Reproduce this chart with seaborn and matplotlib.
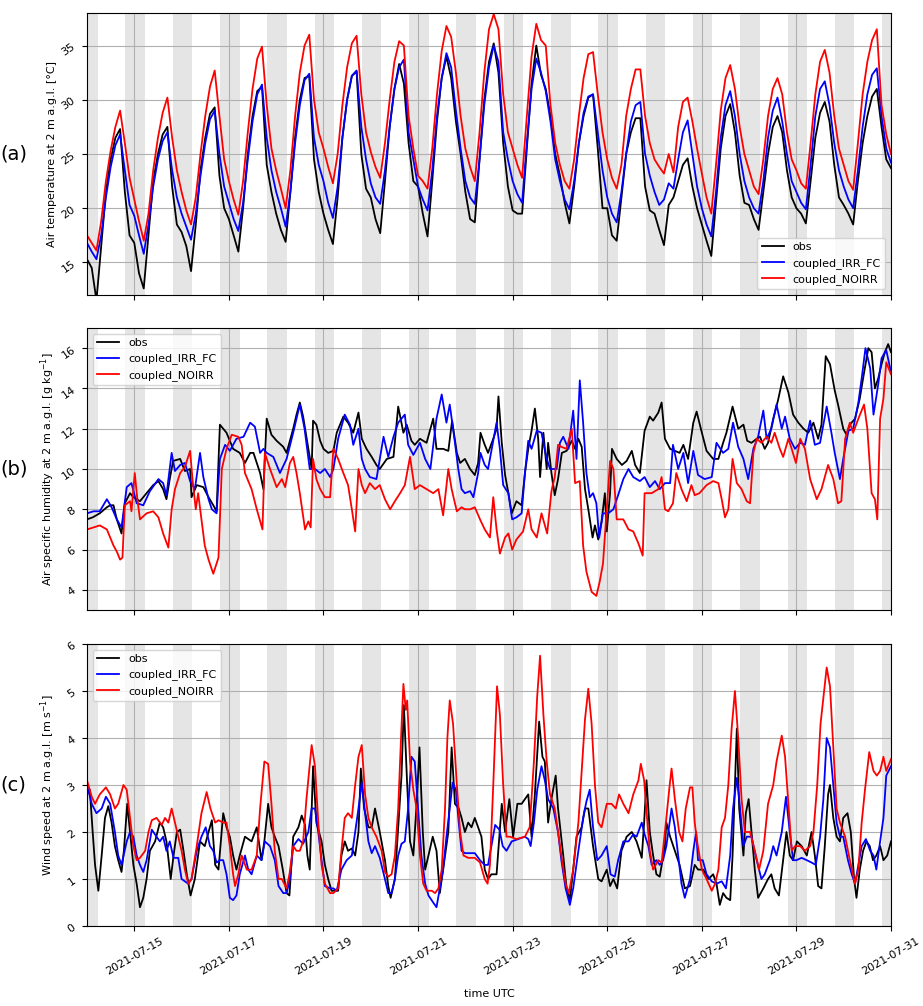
import numpy as np
import pandas as pd
import matplotlib
matplotlib.use("Agg")
import matplotlib.pyplot as plt
import matplotlib.dates as mdates
import seaborn as sns

FS = 8
plt.rcParams["font.size"] = FS

START = pd.Timestamp("2021-07-14")
END = pd.Timestamp("2021-07-31")
SOURCES = ["obs", "coupled_IRR_FC", "coupled_NOIRR"]
COLORS = {"obs": "black", "coupled_IRR_FC": "blue", "coupled_NOIRR": "red"}

# ---------------- panel (a): 2 m temperature, sampled every 0.1 day ----------------
t2m_days = np.round(np.arange(0, 17.0001, 0.1), 1)
t2m_obs = [15.3, 14.5,
    11.5, 16.5, 21.5, 24.5, 26.5, 27.3, 21.5, 17.5, 16.8, 14.0,
    12.6, 17.5, 22.5, 25.0, 26.8, 27.5, 22.0, 18.5, 17.8, 16.5,
    14.2, 18.5, 23.5, 26.5, 28.7, 29.3, 23.0, 20.0, 19.0, 17.5,
    16.0, 20.0, 25.0, 28.5, 30.8, 31.2, 24.0, 21.5, 19.5, 18.0,
    16.9, 21.5, 26.5, 30.0, 32.0, 32.2, 24.5, 21.5, 19.5, 18.0,
    16.7, 21.0, 26.5, 30.0, 32.2, 32.6, 25.0, 21.8, 21.0, 19.0,
    17.7, 22.5, 27.5, 31.0, 33.3, 31.5, 26.0, 22.5, 22.0, 19.5,
    17.4, 22.5, 28.0, 32.0, 34.0, 32.0, 28.0, 25.0, 21.5, 19.0,
    18.7, 24.5, 30.0, 33.5, 35.2, 32.5, 26.0, 22.0, 19.8, 19.5,
    19.5, 25.5, 31.5, 35.0, 32.3, 31.0, 28.5, 25.0, 23.0, 20.5,
    18.6, 22.0, 26.0, 28.5, 30.2, 30.5, 25.5, 20.0, 20.0, 17.5,
    17.0, 21.0, 25.0, 27.0, 28.3, 28.3, 22.0, 19.8, 19.5, 18.0,
    16.6, 20.3, 21.0, 22.5, 24.0, 24.6, 22.0, 20.0, 18.5, 17.0,
    15.6, 20.5, 25.5, 28.5, 29.6, 27.0, 23.0, 20.5, 20.3, 19.0,
    18.0, 21.5, 25.0, 27.5, 28.5, 27.0, 23.5, 21.0, 20.0, 19.5,
    18.6, 22.5, 26.5, 28.8, 29.8, 28.0, 24.0, 21.0, 20.3, 19.5,
    18.5, 22.5, 26.0, 28.5, 30.3, 31.0, 27.5, 24.5, 23.7]
t2m_irr = [16.8, 16.0,
    15.3, 17.5, 21.0, 23.8, 25.8, 26.8, 23.5, 20.3, 19.3, 17.5,
    15.8, 18.5, 22.0, 24.5, 26.2, 27.0, 23.5, 21.0, 19.5, 18.3,
    17.1, 19.5, 23.0, 26.0, 28.2, 29.0, 25.0, 22.0, 20.5, 19.0,
    17.9, 20.5, 24.5, 28.0, 30.5, 31.4, 26.5, 23.5, 21.5, 20.0,
    18.3, 21.5, 26.0, 29.5, 31.8, 32.4, 26.5, 24.0, 22.5, 20.5,
    19.1, 22.0, 26.5, 30.0, 32.2, 32.7, 27.5, 24.5, 22.3, 21.0,
    20.4, 23.5, 27.5, 31.0, 33.0, 33.7, 27.0, 24.5, 22.0, 20.8,
    19.8, 23.5, 28.5, 32.0, 34.3, 33.0, 29.0, 25.5, 22.5, 21.0,
    20.4, 24.5, 29.5, 33.0, 35.0, 33.5, 27.0, 24.5, 22.5, 21.3,
    20.5, 26.0, 31.0, 33.8, 32.5, 30.8, 28.0, 24.5, 22.5, 20.8,
    19.9, 22.5, 26.0, 28.8, 30.3, 30.5, 27.0, 23.5, 21.0, 19.5,
    18.7, 21.5, 25.0, 28.0, 29.5, 29.8, 25.0, 23.0, 21.5, 20.3,
    20.8, 22.3, 21.8, 24.5, 27.0, 28.1, 25.0, 22.0, 20.0, 18.5,
    17.4, 21.5, 26.5, 29.5, 30.8, 28.5, 25.0, 22.5, 21.0, 20.0,
    19.5, 22.5, 26.5, 29.0, 30.2, 28.0, 25.0, 22.5, 21.5, 20.5,
    19.9, 24.0, 28.5, 31.0, 31.7, 29.5, 26.0, 23.5, 22.0, 20.8,
    20.0, 23.5, 27.5, 30.5, 32.3, 32.9, 28.5, 25.5, 24.2]
t2m_noirr = [17.5, 16.8,
    16.1, 18.8, 22.5, 25.3, 27.5, 29.0, 26.0, 22.8, 20.8, 18.8,
    17.0, 19.5, 23.5, 26.5, 28.8, 30.2, 26.5, 23.5, 21.5, 19.8,
    18.5, 21.0, 25.0, 28.5, 31.2, 32.7, 28.5, 24.5, 22.5, 20.8,
    19.4, 22.5, 27.0, 31.0, 33.8, 34.9, 29.5, 25.5, 23.5, 21.8,
    20.0, 23.5, 28.5, 32.5, 35.0, 36.0, 30.0, 27.0, 25.5, 23.8,
    22.3, 25.0, 29.5, 33.0, 35.2, 35.9, 30.5, 27.0, 25.2, 23.8,
    22.8, 26.0, 30.0, 33.5, 35.4, 35.0, 28.5, 25.5, 23.0, 22.5,
    21.8, 25.5, 30.5, 34.5, 36.8, 35.8, 32.5, 28.5, 25.5, 23.8,
    22.5, 27.0, 32.5, 36.5, 37.9, 36.5, 30.5, 27.0, 25.5, 24.0,
    22.8, 28.5, 34.0, 37.0, 35.5, 35.0, 29.5, 26.0, 24.0, 22.5,
    21.8, 24.5, 28.5, 32.0, 34.2, 34.4, 30.5, 27.0, 24.5, 22.8,
    21.8, 24.0, 28.5, 31.0, 32.8, 32.8, 28.5, 26.0, 24.5, 23.8,
    23.2, 25.0, 23.3, 27.5, 29.8, 30.2, 28.0, 25.5, 23.2, 21.0,
    19.5, 24.0, 29.0, 32.0, 33.2, 31.0, 27.5, 25.0, 23.5, 22.0,
    21.3, 24.5, 28.5, 31.0, 32.0, 30.5, 27.0, 24.5, 23.5, 22.3,
    21.8, 26.0, 30.5, 33.5, 34.6, 32.5, 28.5, 25.5, 24.0, 22.5,
    21.7, 26.0, 30.5, 33.5, 35.5, 36.5, 29.5, 26.8, 25.0]

# ---------------- panel (b): specific humidity (day offset, g/kg) ----------------
q_obs = [(0,7.5),(0.12,7.6),(0.27,7.8),(0.42,8.1),(0.49,8.2),(0.56,8.2),(0.63,7.5),(0.73,6.8),(0.8,8.3),(0.91,8.8),
    (0.98,8.6),(1.12,8.4),(1.26,8.8),(1.4,9.2),(1.51,9.4),(1.61,9.0),(1.68,8.5),(1.75,9.5),(1.82,10.4),(1.97,10.5),
    (2.07,9.9),(2.18,10.0),(2.21,8.6),(2.32,9.2),(2.46,9.1),(2.57,8.6),(2.67,8.2),(2.74,7.9),(2.81,12.2),(2.95,11.8),
    (3.09,11.0),(3.23,10.8),(3.34,10.3),(3.45,10.8),(3.52,10.8),(3.59,10.3),(3.66,9.8),(3.73,9.0),(3.8,12.5),(3.9,11.7),
    (4.01,11.4),(4.15,11.1),(4.22,10.8),(4.29,11.4),(4.36,12.0),(4.43,12.7),(4.5,13.3),(4.57,12.6),(4.68,11.0),(4.75,10.0),
    (4.78,12.4),(4.85,12.2),(4.93,11.4),(5.0,11.0),(5.1,10.8),(5.21,10.9),(5.28,11.8),(5.42,12.6),(5.52,12.3),(5.63,11.8),
    (5.74,12.8),(5.81,11.5),(5.91,11.0),(6.02,10.6),(6.12,10.2),(6.19,10.0),(6.34,10.5),(6.48,10.6),(6.58,13.1),(6.69,11.8),
    (6.76,12.2),(6.86,11.4),(6.93,11.2),(7.04,11.5),(7.18,11.3),(7.32,12.5),(7.39,11.0),(7.53,11.0),(7.64,10.9),(7.72,12.4),
    (7.82,10.8),(7.89,10.3),(7.99,10.5),(8.1,10.0),(8.2,9.7),(8.27,10.3),(8.32,11.8),(8.41,11.2),(8.48,10.8),(8.59,11.5),
    (8.66,12.0),(8.7,13.6),(8.77,11.3),(8.84,9.7),(8.91,8.8),(8.98,7.8),(9.08,8.4),(9.19,8.2),(9.26,9.8),(9.33,11.0),
    (9.4,11.9),(9.47,13.0),(9.54,11.5),(9.58,9.6),(9.65,11.8),(9.72,10.0),(9.75,11.3),(9.82,9.8),(9.89,8.7),(9.96,9.5),
    (10.04,10.8),(10.14,10.9),(10.25,11.4),(10.32,11.0),(10.39,11.5),(10.46,11.1),(10.53,9.0),(10.6,8.0),(10.69,6.6),(10.74,7.2),
    (10.81,6.5),(10.88,7.4),(10.95,8.8),(10.99,6.9),(11.06,8.8),(11.1,11.0),(11.2,10.5),(11.31,10.2),(11.41,10.4),(11.52,10.9),
    (11.59,10.2),(11.69,9.8),(11.79,11.9),(11.9,12.6),(11.97,12.4),(12.08,12.8),(12.15,13.3),(12.22,11.5),(12.33,11.0),(12.43,10.9),
    (12.53,10.8),(12.61,11.2),(12.71,10.5),(12.82,12.3),(12.89,12.85),(12.99,11.9),(13.1,10.9),(13.24,10.5),(13.35,10.5),(13.45,11.3),
    (13.52,11.8),(13.65,13.1),(13.77,12.0),(13.88,12.2),(13.96,11.4),(14.05,11.3),(14.16,11.5),(14.23,11.6),(14.33,11.0),(14.4,11.3),
    (14.51,12.5),(14.61,13.4),(14.72,14.6),(14.83,13.8),(14.93,12.7),(15.04,12.3),(15.15,12.0),(15.25,11.8),(15.36,12.3),(15.46,11.5),
    (15.53,12.2),(15.62,15.6),(15.71,15.2),(15.81,13.9),(15.88,13.2),(15.99,12.0),(16.06,11.7),(16.13,12.2),(16.24,12.5),(16.34,13.5),
    (16.41,14.5),(16.52,16.0),(16.59,15.8),(16.66,14.0),(16.73,14.5),(16.8,15.2),(16.87,15.8),(16.94,16.2),(17.0,15.8)]
q_irr = [(0,7.8),(0.14,7.9),(0.27,7.9),(0.42,8.5),(0.52,8.1),(0.63,7.5),(0.73,7.1),(0.84,9.1),(0.94,9.3),(1.05,8.3),
    (1.19,8.2),(1.33,8.9),(1.51,9.5),(1.61,9.3),(1.68,8.7),(1.79,10.8),(1.86,9.9),(1.97,10.2),(2.07,10.3),(2.18,9.4),
    (2.28,9.0),(2.39,10.8),(2.46,9.6),(2.57,8.5),(2.64,8.0),(2.74,7.8),(2.81,10.5),(2.92,11.2),(3.02,10.9),(3.16,11.5),
    (3.31,11.6),(3.45,12.3),(3.55,12.1),(3.66,10.8),(3.73,11.0),(3.8,10.8),(3.94,10.6),(4.08,9.8),(4.22,10.5),(4.36,11.8),
    (4.5,13.2),(4.6,12.0),(4.71,10.0),(4.82,10.0),(4.93,9.8),(5.03,10.0),(5.14,9.6),(5.21,10.0),(5.31,11.5),(5.45,12.7),
    (5.56,12.2),(5.63,11.2),(5.74,12.0),(5.81,10.5),(5.88,10.0),(5.98,9.6),(6.12,9.5),(6.27,11.6),(6.37,10.6),(6.48,11.6),
    (6.58,12.3),(6.72,12.7),(6.79,11.2),(6.9,10.7),(7.04,11.3),(7.15,10.5),(7.26,10.0),(7.39,12.5),(7.5,13.7),(7.6,12.3),
    (7.67,13.2),(7.78,11.3),(7.85,10.0),(7.92,9.0),(7.99,8.8),(8.1,8.9),(8.17,8.6),(8.27,9.8),(8.32,10.8),(8.41,10.2),
    (8.48,10.0),(8.55,10.9),(8.66,12.3),(8.73,11.0),(8.8,9.2),(8.91,8.8),(8.99,7.5),(9.08,7.6),(9.19,7.8),(9.26,9.8),
    (9.33,11.4),(9.4,11.0),(9.51,11.9),(9.61,11.8),(9.71,10.6),(9.79,10.0),(9.86,10.0),(9.93,10.0),(10.0,11.3),(10.07,11.6),
    (10.18,11.0),(10.28,12.9),(10.35,10.5),(10.42,14.4),(10.49,12.3),(10.56,9.8),(10.63,8.6),(10.7,8.8),(10.77,8.3),(10.83,6.6),
    (10.91,7.8),(11.02,7.8),(11.13,8.0),(11.23,8.7),(11.34,9.5),(11.45,10.0),(11.55,9.6),(11.69,9.4),(11.79,9.6),(11.9,9.1),
    (12.01,9.4),(12.11,9.0),(12.22,9.3),(12.33,9.3),(12.39,11.2),(12.5,10.0),(12.61,10.8),(12.71,9.3),(12.82,10.9),(12.92,9.7),
    (13.06,9.5),(13.21,9.6),(13.31,11.3),(13.45,10.8),(13.56,11.0),(13.66,12.3),(13.77,11.1),(13.88,10.5),(13.98,9.5),(14.09,11.0),
    (14.19,11.6),(14.3,12.9),(14.37,11.5),(14.47,12.0),(14.58,13.2),(14.69,12.0),(14.76,12.6),(14.86,11.5),(14.97,11.0),(15.08,11.3),
    (15.18,11.2),(15.29,12.4),(15.39,11.2),(15.5,11.3),(15.64,13.1),(15.74,11.8),(15.81,10.8),(15.92,9.5),(15.99,10.5),(16.1,11.9),
    (16.2,12.0),(16.31,13.3),(16.38,14.5),(16.46,16.0),(16.56,15.0),(16.63,12.7),(16.73,14.2),(16.8,15.5),(16.9,15.9),(17.0,14.8)]
q_noirr = [(0,7.0),(0.14,7.1),(0.27,7.2),(0.42,7.0),(0.49,6.6),(0.56,6.2),(0.63,5.9),(0.7,5.5),(0.75,5.6),(0.8,8.2),
    (0.91,8.4),(0.94,7.9),(1.01,9.8),(1.06,8.6),(1.12,7.5),(1.26,7.8),(1.4,7.9),(1.51,7.6),(1.61,6.8),(1.72,6.1),
    (1.79,8.0),(1.86,9.0),(1.97,9.8),(2.07,10.1),(2.18,10.9),(2.23,9.5),(2.3,8.0),(2.35,8.8),(2.42,7.5),(2.49,6.2),
    (2.57,5.5),(2.67,4.8),(2.78,5.6),(2.85,10.0),(2.95,11.0),(3.06,11.7),(3.2,11.6),(3.27,11.2),(3.34,9.8),(3.48,9.0),
    (3.59,8.0),(3.71,7.0),(3.76,10.8),(3.87,10.0),(4.01,9.1),(4.12,9.5),(4.19,9.1),(4.29,10.3),(4.36,10.6),(4.43,9.8),
    (4.5,8.8),(4.61,7.0),(4.68,7.4),(4.73,7.1),(4.78,10.5),(4.85,9.5),(4.93,9.0),(5.03,8.6),(5.14,8.6),(5.21,11.0),
    (5.31,10.5),(5.42,9.8),(5.52,9.2),(5.6,8.0),(5.67,6.9),(5.74,10.0),(5.81,9.2),(5.88,8.8),(5.98,9.3),(6.09,9.0),
    (6.19,9.2),(6.3,8.5),(6.41,8.0),(6.51,8.4),(6.62,8.8),(6.72,9.2),(6.83,10.6),(6.93,9.0),(7.04,9.2),(7.18,9.0),
    (7.32,8.8),(7.43,9.0),(7.53,7.7),(7.64,10.0),(7.71,9.0),(7.82,7.9),(7.92,8.1),(7.99,8.0),(8.1,8.0),(8.2,8.1),
    (8.31,7.5),(8.41,7.0),(8.52,6.6),(8.59,8.6),(8.66,7.0),(8.73,5.8),(8.84,6.6),(8.91,6.8),(8.99,6.0),(9.08,6.5),
    (9.22,6.9),(9.33,8.0),(9.4,7.0),(9.51,6.6),(9.61,7.8),(9.73,6.8),(9.82,8.9),(9.89,9.6),(9.96,11.2),(10.03,11.1),
    (10.14,11.0),(10.25,12.0),(10.32,9.3),(10.42,9.4),(10.49,6.2),(10.56,4.9),(10.67,3.9),(10.77,3.7),(10.84,4.4),(10.91,5.3),
    (10.99,8.0),(11.06,10.4),(11.13,10.0),(11.2,7.5),(11.34,7.5),(11.45,7.0),(11.55,6.9),(11.66,6.3),(11.75,5.7),(11.79,8.8),
    (11.94,8.8),(12.08,9.0),(12.15,9.6),(12.22,8.0),(12.29,7.9),(12.39,8.3),(12.46,9.8),(12.57,9.0),(12.68,8.4),(12.78,9.2),
    (12.85,8.7),(12.95,8.8),(13.1,9.2),(13.24,9.4),(13.35,9.3),(13.42,8.5),(13.49,7.6),(13.56,8.0),(13.65,10.5),(13.74,9.3),
    (13.84,9.0),(13.95,8.4),(14.02,8.3),(14.09,10.8),(14.16,11.5),(14.26,11.3),(14.37,11.6),(14.47,11.3),(14.54,11.8),(14.65,11.0),
    (14.72,10.6),(14.83,11.5),(14.9,11.0),(14.99,10.3),(15.08,11.5),(15.18,11.0),(15.29,9.5),(15.43,8.5),(15.53,9.0),(15.67,10.2),
    (15.78,9.5),(15.88,8.3),(15.95,8.4),(16.03,11.5),(16.13,12.3),(16.2,11.8),(16.31,12.5),(16.43,13.2),(16.5,12.0),(16.59,8.8),
    (16.66,8.5),(16.71,7.5),(16.77,12.5),(16.84,13.5),(16.9,15.3),(17.0,14.7)]

# ---------------- panel (c): wind speed (day offset, m/s) ----------------
ws_obs = [(0,2.8),(0.06,2.9),(0.12,2.0),(0.17,1.3),(0.24,0.75),(0.31,1.5),(0.38,2.3),(0.45,2.55),(0.52,2.2),(0.59,1.7),
    (0.66,1.4),(0.73,1.15),(0.78,1.6),(0.85,2.6),(0.91,2.0),(0.98,1.3),(1.05,0.9),(1.12,0.4),(1.19,0.6),(1.26,1.0),
    (1.33,1.6),(1.44,1.8),(1.54,2.2),(1.61,2.1),(1.68,1.8),(1.77,1.0),(1.83,1.5),(1.9,2.0),(1.97,2.05),(2.04,1.6),
    (2.11,1.1),(2.19,0.65),(2.28,1.0),(2.39,1.8),(2.49,1.7),(2.57,2.0),(2.64,2.25),(2.71,1.3),(2.78,1.2),(2.88,2.4),
    (2.95,2.1),(3.02,1.9),(3.09,1.5),(3.16,1.2),(3.23,1.5),(3.34,1.9),(3.48,1.8),(3.59,2.1),(3.69,1.4),(3.75,1.8),
    (3.83,2.6),(3.9,2.1),(3.97,1.9),(4.05,1.7),(4.14,1.2),(4.22,0.7),(4.28,0.65),(4.36,1.9),(4.47,2.1),(4.54,2.35),
    (4.61,2.15),(4.66,1.5),(4.71,1.2),(4.78,3.4),(4.85,2.2),(4.96,1.8),(5.03,1.3),(5.1,1.0),(5.17,0.75),(5.24,0.75),
    (5.31,0.75),(5.38,1.5),(5.45,1.8),(5.52,1.6),(5.6,1.65),(5.67,1.5),(5.74,2.0),(5.79,3.35),(5.86,2.5),(5.95,2.1),
    (6.02,2.1),(6.09,2.5),(6.19,2.0),(6.3,1.4),(6.37,0.85),(6.42,0.6),(6.51,1.0),(6.58,2.1),(6.65,3.2),(6.7,4.7),
    (6.77,3.0),(6.83,1.8),(6.9,1.5),(6.97,2.6),(7.03,3.8),(7.1,2.0),(7.15,1.2),(7.22,1.5),(7.31,1.9),(7.39,1.6),
    (7.46,0.7),(7.53,1.2),(7.64,2.0),(7.71,3.8),(7.78,2.6),(7.86,2.5),(7.92,2.3),(7.99,2.0),(8.06,2.2),(8.13,2.1),
    (8.2,2.3),(8.27,2.1),(8.34,1.9),(8.41,1.2),(8.48,1.0),(8.55,1.1),(8.66,1.1),(8.77,2.6),(8.84,2.0),(8.93,2.7),
    (9.01,1.9),(9.1,2.6),(9.19,2.6),(9.26,2.7),(9.33,2.8),(9.4,1.9),(9.47,2.8),(9.56,4.35),(9.63,3.6),(9.68,3.5),
    (9.75,2.2),(9.82,2.7),(9.91,3.2),(9.96,2.5),(10.07,1.5),(10.14,0.8),(10.21,0.55),(10.28,1.2),(10.35,1.9),(10.46,2.1),
    (10.53,2.5),(10.6,2.5),(10.7,1.7),(10.81,1.0),(10.88,0.95),(10.99,1.2),(11.06,0.85),(11.13,1.0),(11.21,0.8),(11.3,1.6),
    (11.41,1.9),(11.52,2.0),(11.62,1.8),(11.73,1.45),(11.78,2.2),(11.83,3.1),(11.9,2.0),(11.97,1.5),(12.04,1.1),(12.11,1.05),
    (12.22,1.7),(12.25,2.2),(12.33,1.9),(12.43,1.6),(12.53,1.3),(12.64,0.8),(12.75,0.85),(12.85,1.3),(12.92,1.2),(13.03,1.2),
    (13.14,1.0),(13.24,1.1),(13.31,0.9),(13.38,0.45),(13.45,0.7),(13.52,0.6),(13.6,0.55),(13.65,1.5),(13.7,3.0),(13.74,4.2),
    (13.79,2.5),(13.88,1.5),(13.93,2.4),(13.99,2.7),(14.05,2.0),(14.12,1.2),(14.19,0.6),(14.3,0.8),(14.4,1.0),(14.47,1.1),
    (14.54,0.8),(14.63,0.65),(14.72,1.4),(14.79,2.0),(14.86,1.5),(14.93,1.4),(15.01,1.8),(15.11,1.7),(15.22,1.5),(15.32,2.0),
    (15.39,1.5),(15.46,0.85),(15.53,0.8),(15.6,1.7),(15.67,2.8),(15.71,3.0),(15.78,2.3),(15.85,1.9),(15.92,1.8),(15.99,2.3),
    (16.08,2.4),(16.15,2.0),(16.22,1.0),(16.27,0.6),(16.34,1.2),(16.41,1.6),(16.48,1.8),(16.55,1.7),(16.62,1.4),(16.69,1.5),
    (16.77,1.7),(16.84,1.4),(16.92,1.5),(17.0,1.8)]
ws_irr = [(0,3.0),(0.1,2.6),(0.2,2.4),(0.31,2.5),(0.4,2.75),(0.49,2.6),(0.59,2.0),(0.66,1.5),(0.73,1.3),(0.84,1.8),
    (0.91,2.0),(0.98,1.9),(1.05,1.5),(1.12,1.3),(1.19,1.15),(1.26,1.4),(1.37,2.05),(1.47,1.9),(1.54,1.8),(1.61,1.9),
    (1.68,1.6),(1.75,1.8),(1.83,1.45),(1.93,1.45),(2.0,1.0),(2.07,0.95),(2.14,0.9),(2.21,1.0),(2.32,1.6),(2.42,1.9),
    (2.51,2.1),(2.6,1.7),(2.67,1.6),(2.74,1.35),(2.81,1.4),(2.88,1.4),(2.95,1.1),(3.02,0.6),(3.09,0.55),(3.16,0.65),
    (3.23,1.1),(3.34,1.5),(3.41,1.2),(3.48,1.1),(3.59,1.5),(3.69,1.4),(3.76,1.8),(3.87,1.7),(3.97,1.4),(4.05,0.85),
    (4.15,0.7),(4.22,0.7),(4.29,1.0),(4.36,1.7),(4.47,1.85),(4.57,1.75),(4.68,2.0),(4.75,2.5),(4.82,2.5),(4.89,2.0),
    (4.96,1.4),(5.03,0.85),(5.14,0.8),(5.21,0.8),(5.28,0.75),(5.38,1.2),(5.49,1.4),(5.6,1.5),(5.67,2.0),(5.74,2.5),
    (5.81,3.05),(5.88,2.4),(5.95,1.8),(6.02,1.55),(6.09,1.7),(6.19,1.45),(6.3,1.0),(6.37,0.7),(6.44,0.7),(6.51,1.0),
    (6.58,1.5),(6.65,1.75),(6.72,1.8),(6.79,2.5),(6.86,3.6),(6.93,3.5),(7.0,2.5),(7.07,1.5),(7.15,0.9),(7.22,0.65),
    (7.32,0.5),(7.39,0.4),(7.46,0.8),(7.53,1.2),(7.6,1.9),(7.67,2.5),(7.73,3.05),(7.8,2.9),(7.86,2.2),(7.92,1.6),
    (7.99,1.55),(8.06,1.55),(8.2,1.55),(8.31,1.4),(8.41,1.3),(8.48,1.3),(8.55,1.7),(8.63,2.15),(8.72,2.05),(8.79,1.7),
    (8.87,1.6),(8.98,1.8),(9.12,1.85),(9.26,1.9),(9.33,1.85),(9.38,1.7),(9.45,2.2),(9.52,2.9),(9.61,3.4),(9.68,3.1),
    (9.75,2.7),(9.86,2.5),(9.96,2.0),(10.03,1.4),(10.12,0.8),(10.21,0.45),(10.28,0.8),(10.39,1.6),(10.49,2.3),(10.56,2.65),
    (10.63,2.9),(10.7,2.1),(10.79,1.4),(10.88,1.5),(10.99,1.7),(11.07,1.1),(11.16,1.05),(11.23,1.4),(11.34,1.8),(11.45,1.8),
    (11.55,1.95),(11.62,1.9),(11.73,2.2),(11.79,1.95),(11.87,1.7),(11.94,1.3),(12.04,1.4),(12.11,1.3),(12.18,1.4),(12.25,1.7),
    (12.36,2.5),(12.43,2.1),(12.5,1.5),(12.57,0.9),(12.64,0.6),(12.75,1.0),(12.82,1.6),(12.88,2.0),(12.92,1.4),(13.02,1.4),
    (13.1,1.1),(13.21,0.95),(13.31,0.9),(13.42,0.95),(13.51,0.8),(13.6,1.5),(13.66,2.5),(13.74,3.15),(13.8,2.6),(13.88,1.7),
    (13.95,1.9),(14.05,1.9),(14.16,1.4),(14.26,1.0),(14.33,1.1),(14.44,1.4),(14.51,1.7),(14.58,1.5),(14.69,2.0),(14.78,2.75),
    (14.86,2.0),(14.93,1.4),(15.0,1.4),(15.11,1.45),(15.22,1.4),(15.32,1.35),(15.41,1.3),(15.5,1.9),(15.57,2.7),(15.64,4.0),
    (15.71,3.8),(15.78,3.0),(15.85,2.2),(15.92,1.9),(15.99,1.9),(16.09,1.4),(16.17,1.1),(16.24,0.9),(16.31,1.3),(16.38,1.7),
    (16.47,1.85),(16.56,1.6),(16.63,1.5),(16.69,1.2),(16.77,1.8),(16.84,2.3),(16.9,3.2),(17.0,3.4)]
ws_noirr = [(0,3.1),(0.1,2.75),(0.17,2.6),(0.27,2.8),(0.4,2.95),(0.49,2.8),(0.59,2.5),(0.66,2.6),(0.77,3.0),(0.84,2.9),
    (0.91,2.3),(0.98,1.7),(1.05,1.4),(1.12,1.45),(1.23,1.6),(1.3,2.0),(1.37,2.25),(1.47,2.3),(1.58,2.15),(1.65,2.3),
    (1.72,2.2),(1.79,2.5),(1.86,2.2),(1.93,1.9),(2.0,1.6),(2.07,1.2),(2.14,0.9),(2.21,1.0),(2.32,1.7),(2.42,2.4),
    (2.53,2.85),(2.61,2.5),(2.71,2.2),(2.78,2.25),(2.88,2.2),(2.95,2.2),(3.02,1.7),(3.09,1.1),(3.13,0.85),(3.2,1.1),
    (3.27,1.5),(3.38,1.2),(3.48,1.2),(3.59,1.5),(3.66,2.5),(3.75,3.5),(3.83,3.45),(3.9,2.6),(3.97,1.6),(4.05,1.0),
    (4.12,1.0),(4.22,0.8),(4.28,1.1),(4.36,1.7),(4.43,1.6),(4.5,1.6),(4.57,1.8),(4.64,2.7),(4.75,3.85),(4.82,3.4),
    (4.89,2.2),(4.96,1.3),(5.03,0.9),(5.14,0.7),(5.21,0.7),(5.31,0.8),(5.38,1.6),(5.45,2.3),(5.52,2.4),(5.6,2.3),
    (5.67,3.0),(5.74,3.6),(5.81,3.85),(5.88,2.8),(5.95,2.3),(6.02,2.1),(6.12,1.9),(6.23,1.6),(6.3,1.15),(6.37,1.05),
    (6.44,1.1),(6.51,1.5),(6.58,2.5),(6.64,4.0),(6.69,5.15),(6.74,4.6),(6.77,4.8),(6.83,3.5),(6.9,2.9),(6.97,2.5),
    (7.04,1.5),(7.11,0.9),(7.18,0.75),(7.29,0.75),(7.36,0.7),(7.43,0.8),(7.5,1.2),(7.57,2.5),(7.62,4.0),(7.67,4.8),
    (7.74,4.3),(7.82,3.0),(7.89,2.0),(7.96,1.5),(8.06,1.45),(8.2,1.45),(8.31,1.35),(8.41,1.0),(8.47,0.9),(8.52,1.3),
    (8.59,3.0),(8.67,5.1),(8.73,4.5),(8.8,3.0),(8.87,1.9),(8.94,1.9),(9.08,1.85),(9.26,1.9),(9.36,2.1),(9.45,3.5),
    (9.52,4.9),(9.58,5.75),(9.65,4.5),(9.72,3.5),(9.79,2.8),(9.89,2.5),(9.96,2.0),(10.03,1.5),(10.12,0.9),(10.19,0.7),
    (10.28,1.2),(10.39,2.2),(10.46,3.3),(10.53,4.4),(10.6,5.05),(10.67,4.3),(10.74,3.0),(10.81,2.2),(10.88,2.1),(10.99,2.6),
    (11.09,2.6),(11.18,2.5),(11.25,2.8),(11.34,2.6),(11.45,2.4),(11.55,2.8),(11.66,3.1),(11.71,3.45),(11.78,3.1),(11.85,2.2),
    (11.9,1.6),(11.97,1.2),(12.08,1.4),(12.15,1.35),(12.24,2.2),(12.31,2.9),(12.36,3.35),(12.43,2.7),(12.52,2.0),(12.59,1.8),
    (12.66,2.5),(12.75,2.95),(12.8,2.95),(12.85,2.2),(12.9,1.8),(13.0,1.2),(13.1,1.0),(13.21,0.75),(13.28,0.9),(13.35,1.2),
    (13.42,2.1),(13.49,2.3),(13.56,3.0),(13.63,4.2),(13.7,5.0),(13.77,4.0),(13.84,2.7),(13.91,2.0),(14.02,2.0),(14.12,1.6),
    (14.21,1.2),(14.3,1.6),(14.4,2.6),(14.51,3.0),(14.58,3.5),(14.69,4.05),(14.76,3.6),(14.83,2.6),(14.9,1.6),(14.97,1.7),
    (15.08,1.7),(15.18,1.6),(15.29,1.7),(15.36,2.0),(15.44,3.0),(15.51,4.3),(15.64,5.5),(15.71,5.1),(15.78,3.8),(15.85,2.5),
    (15.92,2.2),(16.03,1.9),(16.13,1.4),(16.24,0.9),(16.31,1.2),(16.38,2.2),(16.45,2.9),(16.54,3.7),(16.63,3.3),(16.7,3.2),
    (16.77,3.3),(16.84,3.6),(16.9,3.3),(17.0,3.55)]

YLABELS = ["Air temperature at 2 m a.g.l. [°C]",
           "Air specific humidity at 2 m a.g.l. [g kg$^{-1}$]",
           "Wind speed at 2 m a.g.l. [m s$^{-1}$]"]
PANEL_TAGS = ["(a)", "(b)", "(c)"]
YLIMS = [(12, 38), (3, 17), (0, 6)]
YTICKS = [[15, 20, 25, 30, 35], [4, 6, 8, 10, 12, 14, 16], [0, 1, 2, 3, 4, 5, 6]]
LEGEND_LOC = ["lower right", "upper left", "upper left"]
SUNSET_H, SUNRISE_H = 19.5, 5.4


def to_time(days):
    return START + pd.to_timedelta(np.asarray(days, dtype=float), unit="D")


def frame_regular(days, series):
    parts = []
    for name, vals in zip(SOURCES, series):
        parts.append(pd.DataFrame({"time": to_time(days), "value": vals, "source": name}))
    return pd.concat(parts, ignore_index=True)


def frame_pairs(series):
    parts = []
    for name, pairs in zip(SOURCES, series):
        d, v = zip(*pairs)
        parts.append(pd.DataFrame({"time": to_time(d), "value": v, "source": name}))
    return pd.concat(parts, ignore_index=True)


frames = [frame_regular(t2m_days, [t2m_obs, t2m_irr, t2m_noirr]),
          frame_pairs([q_obs, q_irr, q_noirr]),
          frame_pairs([ws_obs, ws_irr, ws_noirr])]

fig = plt.figure(figsize=(9.23, 10.06), dpi=100)
left, width = 87 / 923, (891 - 87) / 923
tops = [13, 328, 644]
axes = []
for i, top in enumerate(tops):
    h = 282 / 1006
    bottom = 1 - (top + 282) / 1006
    ax = fig.add_axes([left, bottom, width, h], sharex=axes[0] if axes else None)
    axes.append(ax)

n_days = (END - START).days
for i, ax in enumerate(axes):
    # night shading
    ax.axvspan(START, START + pd.Timedelta(hours=SUNRISE_H), color="#e5e5e5", lw=0, zorder=0)
    for k in range(n_days):
        s = START + pd.Timedelta(days=k, hours=SUNSET_H)
        e = START + pd.Timedelta(days=k + 1, hours=SUNRISE_H)
        ax.axvspan(s, min(e, END), color="#e5e5e5", lw=0, zorder=0)

    sns.lineplot(data=frames[i], x="time", y="value", hue="source", hue_order=SOURCES,
                 palette=COLORS, estimator=None, sort=False, linewidth=1.3, ax=ax)
    ax.set_xlim(START, END)
    ax.set_ylim(*YLIMS[i])
    ax.set_yticks(YTICKS[i])
    ax.grid(True, color="#b0b0b0", linewidth=0.8)
    ax.set_ylabel(YLABELS[i], fontsize=FS)
    ax.yaxis.set_label_coords(-0.037, 0.5)
    ax.tick_params(axis="y", labelrotation=35, labelsize=FS)
    handles, labels = ax.get_legend_handles_labels()
    ax.legend(handles, labels, loc=LEGEND_LOC[i], fontsize=FS)
    ax.set_xlabel("")
    pos = ax.get_position()
    fig.text(0.0, pos.y0 + pos.height * 0.5, PANEL_TAGS[i], fontsize=14, va="center", ha="left")

axes[-1].xaxis.set_major_locator(mdates.DayLocator(bymonthday=range(15, 32, 2)))
axes[-1].xaxis.set_major_formatter(mdates.DateFormatter("%Y-%m-%d"))
for ax in axes[:-1]:
    ax.tick_params(axis="x", labelbottom=False)
for lab in axes[-1].get_xticklabels():
    lab.set_rotation(30)
    lab.set_ha("center")
axes[-1].tick_params(axis="x", labelsize=FS)
axes[-1].set_xlabel("time UTC", fontsize=FS)
axes[-1].xaxis.set_label_coords(0.5, -0.222)

fig.savefig("out.png", dpi=100)
